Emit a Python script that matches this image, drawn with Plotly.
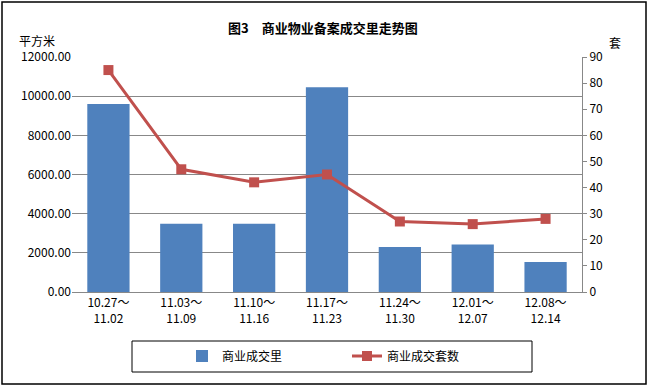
import plotly.graph_objects as go

categories = ["10.27～<br>11.02", "11.03～<br>11.09", "11.10～<br>11.16", "11.17～<br>11.23",
              "11.24～<br>11.30", "12.01～<br>12.07", "12.08～<br>12.14"]
area_values = [9600, 3480, 3480, 10450, 2300, 2420, 1530]
unit_values = [85, 47, 42, 45, 27, 26, 28]
left_ticks = [0, 2000, 4000, 6000, 8000, 10000, 12000]
right_ticks = [0, 10, 20, 30, 40, 50, 60, 70, 80, 90]

FONT = "Noto Sans CJK SC"
W, H = 648, 387
L, R, T, B = 72, 66, 57, 95
pw, ph = W - L - R, H - T - B

def px(x):
    return (x - L) / pw

def py(y):
    return (H - B - y) / ph

fig = go.Figure()
fig.add_trace(go.Bar(x=categories, y=area_values, name="商业成交里",
                     marker=dict(color="#4F81BD", line=dict(width=0)), width=0.58))
fig.add_trace(go.Scatter(x=categories, y=unit_values, name="商业成交套数", yaxis="y2",
                         mode="lines+markers",
                         line=dict(color="#C0504D", width=3),
                         marker=dict(symbol="square", size=10, color="#C0504D")))

fig.update_layout(
    width=W, height=H,
    margin=dict(l=L, r=R, t=T, b=B),
    paper_bgcolor="white", plot_bgcolor="white",
    font=dict(family=FONT, size=11, color="black"),
    showlegend=True,
    xaxis=dict(type="category", showgrid=False, ticks="", showline=True,
               linecolor="#888888", linewidth=1, tickfont=dict(size=12, family=FONT),
               fixedrange=True),
    yaxis=dict(range=[0, 12000], tickvals=left_ticks,
               ticktext=[f"{v:.2f}" for v in left_ticks],
               showgrid=True, gridcolor="#888888", gridwidth=1, zeroline=False,
               showline=False, ticks="", tickfont=dict(size=12, family=FONT)),
    yaxis2=dict(range=[0, 90], tickvals=right_ticks, overlaying="y", side="right",
                showgrid=False, zeroline=False, showline=True, linecolor="#888888",
                ticks="outside", ticklen=4, tickcolor="#888888",
                tickfont=dict(size=12, family=FONT)),
    legend=dict(orientation="h", x=px(182), xanchor="left", y=py(356), yanchor="middle",
                entrywidth=120, entrywidthmode="pixels",
                font=dict(size=12, family=FONT), bgcolor="rgba(0,0,0,0)"),
    shapes=[
        dict(type="rect", xref="paper", yref="paper", x0=px(132), x1=px(532),
             y0=py(372), y1=py(341), line=dict(color="black", width=1)),
        dict(type="rect", xref="paper", yref="paper", x0=px(2), x1=px(646),
             y0=py(384), y1=py(2), line=dict(color="black", width=1.5)),
    ],
    annotations=[
        dict(text="<b>图3　商业物业备案成交里走势图</b>", xref="paper", yref="paper",
             x=px(323), y=py(28), showarrow=False, font=dict(size=13, family=FONT),
             xanchor="center", yanchor="middle"),
        dict(text="平方米", xref="paper", yref="paper", x=px(37), y=py(41),
             showarrow=False, font=dict(size=12, family=FONT), xanchor="center", yanchor="middle"),
        dict(text="套", xref="paper", yref="paper", x=px(615), y=py(43),
             showarrow=False, font=dict(size=12, family=FONT), xanchor="center", yanchor="middle"),
    ],
)

fig.write_html("out.html", config={"displayModeBar": False},
               post_script="document.body.style.margin='0';")
